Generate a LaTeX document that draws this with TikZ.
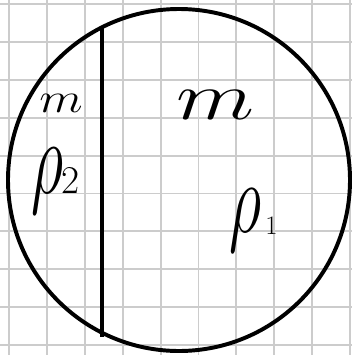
\RequirePackage{fix-cm}
\documentclass[tikz,border=0pt]{standalone}
\usetikzlibrary{positioning}

\tikzset{
  gridline/.style={line width=1.3pt, gray!40},
  sketch/.style={line width=2.8pt, black},
  label/.style={inner sep=0pt, black}
}

\begin{document}
\begin{tikzpicture}[x=0.025cm, y=-0.025cm]
  \useasboundingbox (0,0) rectangle (352,355);
  \fill[white] (0,0) rectangle (352,355);

  % Grid paper
  \foreach \i in {0,...,9} {
    \draw[gridline] ({9+37.9*\i},0) -- ({9+37.9*\i},355);
    \draw[gridline] (0,{4+37.9*\i}) -- (352,{4+37.9*\i});
  }

  % Circle
  \draw[sketch] (179,180) circle[radius=171];

  % Dividing chord
  \coordinate (top) at (102,27);
  \coordinate (bottom) at (102,337);
  \draw[line width=2.2pt] (top) -- (bottom);

  % Masses
  \node[label, font=\fontsize{30}{30}\selectfont, xscale=1.2] (mleft) at (61,103) {$m$};
  \node[label, font=\fontsize{48}{48}\selectfont, xscale=1.35] (mright) at (216,105) {$m$};

  % Densities
  \node[label, font=\fontsize{60}{60}\selectfont, anchor=base west] (rho2) at (31,193)
    {\scalebox{0.75}[1.25]{$\rho$}\kern-1pt{\fontsize{28}{28}\selectfont 2}};
  \node[label, font=\fontsize{60}{60}\selectfont, anchor=base west] (rho1) at (229,232)
    {\scalebox{0.75}[1.2]{$\rho$}\kern3pt\raisebox{-2pt}{\fontsize{19}{19}\selectfont 1}};
\end{tikzpicture}
\end{document}
